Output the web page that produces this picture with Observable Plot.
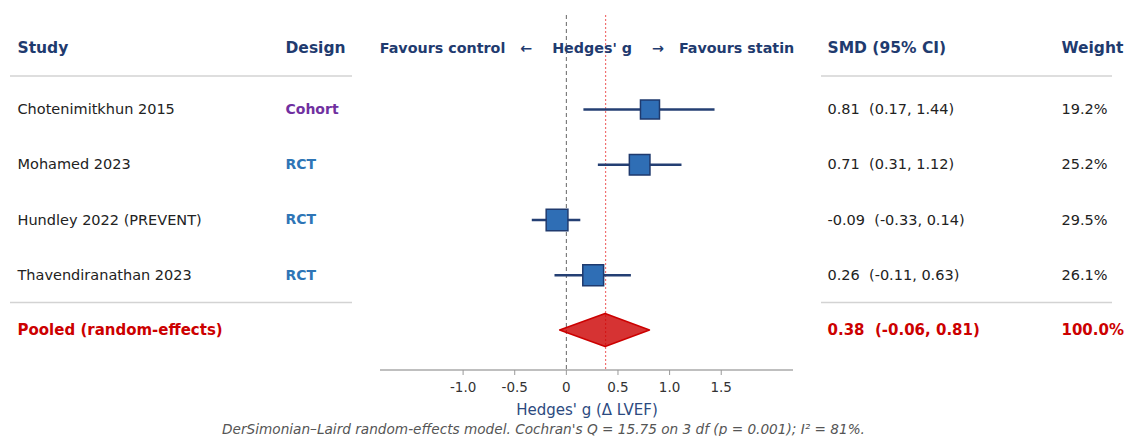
<!DOCTYPE html>
<html><head><meta charset="utf-8">
<script src="https://cdn.jsdelivr.net/npm/d3@7"></script>
<script src="https://cdn.jsdelivr.net/npm/@observablehq/plot@0.6"></script>
<style>
body{margin:0;background:#fff;font-family:"DejaVu Sans",sans-serif;}
#chart{position:absolute;left:0;top:0;}
#caption{position:absolute;left:0;width:1087px;text-align:center;top:421px;font-style:italic;font-size:13.65px;color:#555;line-height:16px;white-space:nowrap;}
</style></head><body>
<div id="chart"></div>
<div id="caption"></div>
<script>
// ---- data ----
const studies = ["Chotenimitkhun 2015", "Mohamed 2023", "Hundley 2022 (PREVENT)", "Thavendiranathan 2023"];
const designs = ["Cohort", "RCT", "RCT", "RCT"];
const smd = [0.81, 0.71, -0.09, 0.26];
const ciLow = [0.17, 0.31, -0.33, -0.11];
const ciHigh = [1.44, 1.12, 0.14, 0.63];
const weights = [19.2, 25.2, 29.5, 26.1];
const pooledLabel = "Pooled (random-effects)";
const pooledEst = 0.38, pooledLow = -0.06, pooledHigh = 0.81, pooledWeight = 100.0;
const tickValues = [-1, -0.5, 0, 0.5, 1, 1.5];
const tickLabels = ["-1.0", "-0.5", "0", "0.5", "1.0", "1.5"];
const headers = {study: "Study", design: "Design", smd: "SMD (95% CI)", weight: "Weight"};
const effectHeader = "Favours control\u00a0\u00a0\u00a0←\u00a0\u00a0\u00a0\u00a0Hedges' g\u00a0\u00a0\u00a0\u00a0→\u00a0\u00a0\u00a0Favours statin";
const xLabel = "Hedges' g (Δ LVEF)";
const caption = "DerSimonian–Laird random-effects model. Cochran's Q = 15.75 on 3 df (p = 0.001); I² = 81%.";

// ---- table ----
const rows = studies.map((s, i) => ({
  study: s, design: designs[i], smd: smd[i], lo: ciLow[i], hi: ciHigh[i], w: weights[i], row: i + 1
}));
const pooledRow = studies.length + 1;
const fmt = v => v.toFixed(2);
const ciText = (e, l, h) => `${fmt(e)}\u00a0\u00a0(${fmt(l)}, ${fmt(h)})`;
const diamond = [
  {x: pooledLow, y1: pooledRow, y2: pooledRow},
  {x: pooledEst, y1: pooledRow - 0.3, y2: pooledRow + 0.3},
  {x: pooledHigh, y1: pooledRow, y2: pooledRow}
];

const NAVY = "#1f3b6f", RED = "#cc0000", FONT = "DejaVu Sans";
const designColor = d => d === "Cohort" ? "#7030a0" : "#2e75b6";

// decorations: axis baseline and table separators
function decorations(index, scales, values, dimensions) {
  const {width, height, marginLeft, marginRight, marginBottom} = dimensions;
  const sy = scales.y;
  const g = d3.create("svg:g");
  const yb = height - marginBottom;
  g.append("line").attr("x1", marginLeft).attr("x2", width - marginRight)
    .attr("y1", yb).attr("y2", yb).attr("stroke", "#aaa").attr("stroke-width", 1.3);
  const ys = [sy(1) - 33, (sy(pooledRow - 1) + sy(pooledRow)) / 2];
  for (const y of ys) {
    g.append("line").attr("x1", 10).attr("x2", 352).attr("y1", y).attr("y2", y)
      .attr("stroke", "#d3d3d3").attr("stroke-width", 1.5);
    g.append("line").attr("x1", 821).attr("x2", 1112).attr("y1", y).attr("y2", y)
      .attr("stroke", "#d3d3d3").attr("stroke-width", 1.5);
  }
  return g.node();
}

const hdr = {lineAnchor: "middle", textAnchor: "start", fontWeight: "bold", fontSize: 15.5, fill: NAVY, dy: 33};

const chart = Plot.plot({
  width: 1128, height: 420,
  marginLeft: 380, marginRight: 335, marginTop: 15, marginBottom: 50,
  style: {fontFamily: FONT, background: "#fff", overflow: "visible"},
  x: {domain: [-1.8, 2.2], axis: null},
  y: {domain: [1, pooledRow], range: [109, 330], axis: null},
  r: {type: "linear", domain: [0, 100], range: [7.9, 22.7]},
  marks: [
    decorations,
    Plot.ruleX([0], {stroke: "#666", strokeWidth: 1, strokeDasharray: "4,3"}),
    Plot.ruleX([pooledEst], {stroke: "#f07070", strokeWidth: 1.2, strokeDasharray: "2,2"}),
    Plot.ruleY(rows, {y: "row", x1: "lo", x2: "hi", stroke: "#243f73", strokeWidth: 2.5}),
    Plot.dot(rows, {x: "smd", y: "row", r: "w", symbol: "square", fill: "#2f6eb5", stroke: "#1f3a6e", strokeWidth: 1.5}),
    Plot.areaY(diamond, {x: "x", y1: "y1", y2: "y2", fill: RED, fillOpacity: 0.8, stroke: RED, strokeWidth: 1.5}),
    // headers
    Plot.text([headers.study], {...hdr, frameAnchor: "top-left", dx: -363}),
    Plot.text([headers.design], {...hdr, frameAnchor: "top-left", dx: -95}),
    Plot.text([effectHeader], {...hdr, frameAnchor: "top", textAnchor: "middle", fontSize: 14.3}),
    Plot.text([headers.smd], {...hdr, frameAnchor: "top-right", dx: 34}),
    Plot.text([headers.weight], {...hdr, frameAnchor: "top-right", dx: 268}),
    // study rows
    Plot.text(rows, {y: "row", text: "study", frameAnchor: "left", dx: -363, textAnchor: "start", fontSize: 14.5, fill: "#222"}),
    Plot.text(rows, {y: "row", text: "design", frameAnchor: "left", dx: -95, textAnchor: "start", fontSize: 14, fontWeight: "bold", fill: d => designColor(d.design)}),
    Plot.text(rows, {y: "row", text: d => ciText(d.smd, d.lo, d.hi), frameAnchor: "right", dx: 34, textAnchor: "start", fontSize: 14.5, fill: "#222"}),
    Plot.text(rows, {y: "row", text: d => `${d.w.toFixed(1)}%`, frameAnchor: "right", dx: 268, textAnchor: "start", fontSize: 14.5, fill: "#222"}),
    // pooled row
    Plot.text([pooledLabel], {y: pooledRow, frameAnchor: "left", dx: -363, textAnchor: "start", fontSize: 15, fontWeight: "bold", fill: RED}),
    Plot.text([ciText(pooledEst, pooledLow, pooledHigh)], {y: pooledRow, frameAnchor: "right", dx: 34, textAnchor: "start", fontSize: 15, fontWeight: "bold", fill: RED}),
    Plot.text([`${pooledWeight.toFixed(1)}%`], {y: pooledRow, frameAnchor: "right", dx: 268, textAnchor: "start", fontSize: 15, fontWeight: "bold", fill: RED}),
    // axis
    Plot.axisX({ticks: tickValues, tickFormat: d => tickLabels[tickValues.indexOf(d)], tickSize: 5, tickPadding: 7, fontSize: 13.5, stroke: "#999", fill: "#333", label: null}),
    Plot.text([xLabel], {frameAnchor: "bottom", lineAnchor: "middle", dy: 40, textAnchor: "middle", fontSize: 15, fill: "#2c4a80"})
  ]
});
document.getElementById("chart").appendChild(chart);
document.getElementById("caption").textContent = caption;
</script>
</body></html>
